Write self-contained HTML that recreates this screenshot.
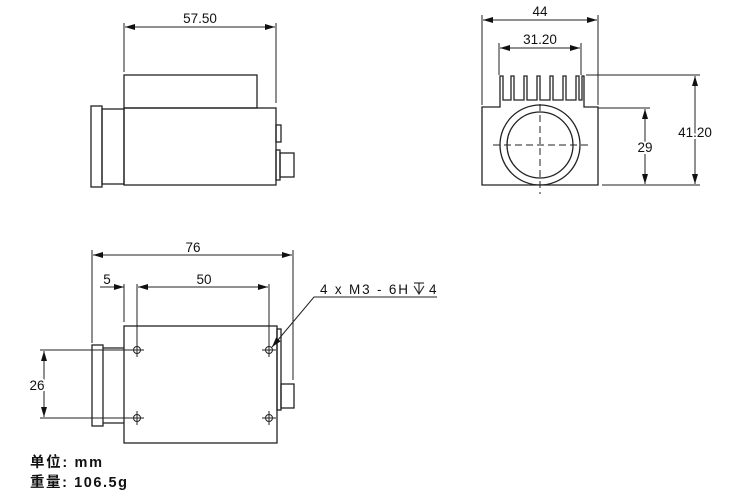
<!DOCTYPE html>
<html><head><meta charset="utf-8"><style>
html,body{margin:0;padding:0;background:#fff;width:750px;height:496px;overflow:hidden}
svg{display:block}
text{font-family:"Liberation Sans","Noto Sans CJK SC",sans-serif;fill:#111}
</style></head><body>
<svg width="750" height="496" viewBox="0 0 750 496" xmlns="http://www.w3.org/2000/svg">
<defs>
<marker id="a" viewBox="0 0 10 6" refX="10" refY="3" markerWidth="10" markerHeight="6" orient="auto-start-reverse" markerUnits="userSpaceOnUse"><path d="M0,0L10,3L0,6z" fill="#111"/></marker>
</defs>
<g stroke="#222" stroke-width="1.3" fill="none">
<line x1="124" y1="23" x2="124" y2="72" stroke-width="1"/>
<line x1="276" y1="23" x2="276" y2="103" stroke-width="1"/>
<line x1="125" y1="27" x2="275" y2="27" stroke-width="1" marker-start="url(#a)" marker-end="url(#a)"/>
<rect x="124" y="75" width="133" height="33"/>
<rect x="124" y="108" width="152" height="77"/>
<rect x="91" y="106" width="11" height="81"/>
<rect x="102" y="109" width="22" height="75"/>
<rect x="276" y="125" width="5" height="17"/>
<rect x="276" y="150" width="4" height="30"/>
<rect x="280" y="153" width="14" height="24"/>
<line x1="482" y1="15" x2="482" y2="105" stroke-width="1"/>
<line x1="598" y1="15" x2="598" y2="105" stroke-width="1"/>
<line x1="483" y1="20" x2="597" y2="20" stroke-width="1" marker-start="url(#a)" marker-end="url(#a)"/>
<line x1="499" y1="43" x2="499" y2="75" stroke-width="1"/>
<line x1="581" y1="43" x2="581" y2="75" stroke-width="1"/>
<line x1="500" y1="48" x2="580" y2="48" stroke-width="1" marker-start="url(#a)" marker-end="url(#a)"/>
<path d="M482,185 L482,107 L500,107 L500,76 L503,76 L503,100 L511,100 L511,76 L514,76 L514,100 L524,100 L524,76 L527,76 L527,100 L537,100 L537,76 L540,76 L540,100 L550,100 L550,76 L553,76 L553,100 L563,100 L563,76 L566,76 L566,100 L576,100 L576,76 L579,76 L579,100 L582,100 L582,76 L584,76 L584,107 L598,107 L598,185 Z"/>
<circle cx="540" cy="145" r="40"/>
<circle cx="540" cy="145" r="33"/>
<line x1="493" y1="145" x2="588" y2="145" stroke-width="1" stroke-dasharray="7,4"/>
<line x1="540" y1="104" x2="540" y2="194" stroke-width="1" stroke-dasharray="7,4"/>
<line x1="598" y1="108" x2="650" y2="108" stroke-width="1"/>
<line x1="602" y1="185" x2="648" y2="185" stroke-width="1"/>
<line x1="645" y1="109" x2="645" y2="184" stroke-width="1" marker-start="url(#a)" marker-end="url(#a)"/>
<line x1="586" y1="75" x2="700" y2="75" stroke-width="1"/>
<line x1="648" y1="185" x2="700" y2="185" stroke-width="1"/>
<line x1="695" y1="76" x2="695" y2="184" stroke-width="1" marker-start="url(#a)" marker-end="url(#a)"/>
<line x1="92" y1="250" x2="92" y2="343" stroke-width="1"/>
<line x1="293" y1="250" x2="293" y2="380" stroke-width="1"/>
<line x1="93" y1="255" x2="292" y2="255" stroke-width="1" marker-start="url(#a)" marker-end="url(#a)"/>
<line x1="124" y1="284" x2="124" y2="322" stroke-width="1"/>
<line x1="137" y1="284" x2="137" y2="350" stroke-width="1"/>
<line x1="269" y1="284" x2="269" y2="346" stroke-width="1"/>
<line x1="100" y1="287" x2="124" y2="287" stroke-width="1" marker-end="url(#a)"/>
<line x1="138" y1="287" x2="268" y2="287" stroke-width="1" marker-start="url(#a)" marker-end="url(#a)"/>
<rect x="124" y="326" width="153" height="117"/>
<rect x="277" y="329" width="4" height="81"/>
<rect x="281" y="384" width="13" height="24"/>
<rect x="92" y="345" width="11" height="81"/>
<line x1="103" y1="348" x2="124" y2="348"/>
<line x1="103" y1="423" x2="124" y2="423"/>
<line x1="40" y1="350" x2="130" y2="350" stroke-width="1"/>
<line x1="40" y1="418" x2="130" y2="418" stroke-width="1"/>
<line x1="44" y1="351" x2="44" y2="417" stroke-width="1" marker-start="url(#a)" marker-end="url(#a)"/>
<g stroke-width="1">
<circle cx="137" cy="350" r="3.5"/><line x1="130" y1="350" x2="144" y2="350"/><line x1="137" y1="343" x2="137" y2="357"/>
<circle cx="269" cy="350" r="3.5"/><line x1="262" y1="350" x2="276" y2="350"/><line x1="269" y1="343" x2="269" y2="357"/>
<circle cx="137" cy="418" r="3.5"/><line x1="130" y1="418" x2="144" y2="418"/><line x1="137" y1="411" x2="137" y2="425"/>
<circle cx="269" cy="418" r="3.5"/><line x1="262" y1="418" x2="276" y2="418"/><line x1="269" y1="411" x2="269" y2="425"/>
</g>
<polyline points="437,297 314,297 272,347" stroke-width="1" marker-end="url(#a)"/>
<g stroke-width="1.1">
<line x1="414" y1="283" x2="424" y2="283"/>
<polyline points="414,286 419,294 424,286"/>
<line x1="419" y1="283" x2="419" y2="294"/>
</g>
</g>
<g font-size="13.5">
<text x="200" y="23" text-anchor="middle">57.50</text>
<text x="540" y="16" text-anchor="middle">44</text>
<text x="540" y="44" text-anchor="middle">31.20</text>
<text x="645" y="152" text-anchor="middle" style="paint-order:stroke" stroke="#fff" stroke-width="4">29</text>
<text x="695" y="137" text-anchor="middle" style="paint-order:stroke" stroke="#fff" stroke-width="4">41.20</text>
<text x="193" y="252" text-anchor="middle">76</text>
<text x="107" y="284" text-anchor="middle">5</text>
<text x="204" y="284" text-anchor="middle">50</text>
<text x="37" y="390" text-anchor="middle" style="paint-order:stroke" stroke="#fff" stroke-width="4">26</text>
<text x="320" y="294" textLength="88" lengthAdjust="spacing">4 x  M3 - 6H</text>
<text x="429" y="294">4</text>
</g>
<g font-size="14.5" font-weight="bold">
<text x="30" y="467" textLength="72" lengthAdjust="spacing">单位:  mm</text>
<text x="30" y="487" textLength="97" lengthAdjust="spacing">重量:  106.5g</text>
</g>
</svg>
</body></html>
